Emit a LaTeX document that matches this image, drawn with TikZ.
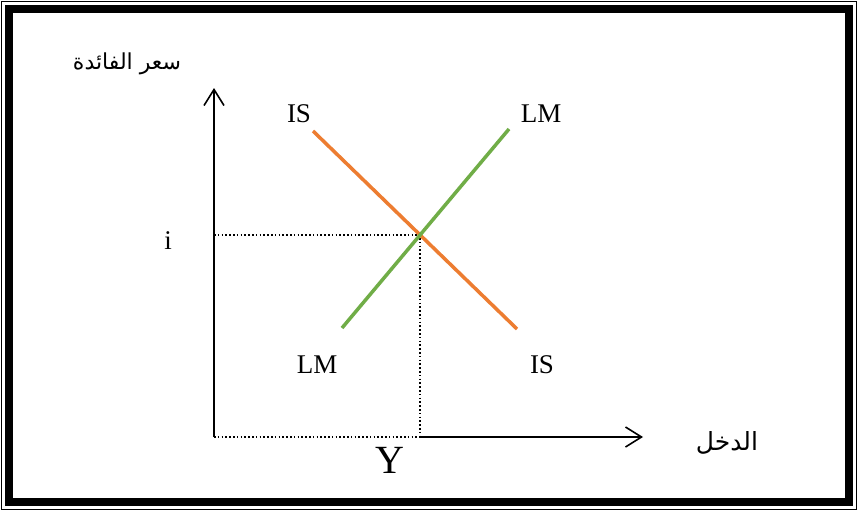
\documentclass[tikz,border=0pt]{standalone}
\usepackage{fontspec}
\setmainfont{Liberation Serif}
\newfontfamily\arabicfont[Script=Arabic]{DejaVu Sans}
\TeXXeTstate=1
\usetikzlibrary{arrows.meta}
\definecolor{isorange}{RGB}{237,125,49}
\definecolor{lmgreen}{RGB}{112,173,71}
\tikzset{
  axis/.style={line width=2pt},
  barb/.style={-{Straight Barb[length=16pt,width=20pt,line width=1.6pt]}},
  dotline/.style={line width=1.6pt, dash pattern=on 1.6pt off 2.2pt},
  curvelabel/.style={font=\fontsize{27}{32}\selectfont, anchor=base, inner sep=0pt},
  arlabel/.style={inner sep=0pt}
}
\begin{document}
\begin{tikzpicture}[x=1pt,y=-1pt]
\useasboundingbox (0,0) rectangle (858,511);
\fill[white] (0,0) rectangle (858,511);
% frame
\draw[line width=1pt] (1.5,1.5) rectangle (856.5,509.5);
\draw[line width=8pt] (9,9) rectangle (849,502);
% coordinates
\coordinate (O) at (214,437);
\coordinate (ytop) at (214,88);
\coordinate (xend) at (643,437);
\coordinate (E) at (420,235);
\coordinate (Ex) at (420,437);
\coordinate (Ey) at (214,235);
\coordinate (IS1) at (313,131);
\coordinate (IS2) at (517,329);
\coordinate (LM1) at (342,328);
\coordinate (LM2) at (509,129);
% axes
\draw[axis,barb] (O) -- (ytop);
\draw[axis,barb] (Ex) -- (xend);
\draw[dotline] (O) -- (Ex);
\draw[dotline] (Ey) -- (E) -- (Ex);
% curves
\draw[isorange, line width=3.5pt] (IS1) -- (IS2);
\draw[lmgreen, line width=3.5pt] (LM1) -- (LM2);
% labels
\node[curvelabel] (ISa) at (299,122) {IS};
\node[curvelabel] (LMa) at (541,122) {LM};
\node[curvelabel] (LMb) at (317,373) {LM};
\node[curvelabel] (ISb) at (542,373) {IS};
\node[curvelabel] (ilab) at (168,249) {i};
\node[curvelabel, font=\fontsize{40}{44}\selectfont] (Ylab) at (390,473) {Y};
\node[arlabel, font=\arabicfont\fontsize{22}{26}\selectfont] (rate) at (127,64) {\beginR سعر الفائدة\endR};
\node[arlabel, font=\arabicfont\fontsize{25}{30}\selectfont] (income) at (727,443) {\beginR الدخل\endR};
\end{tikzpicture}
\end{document}
